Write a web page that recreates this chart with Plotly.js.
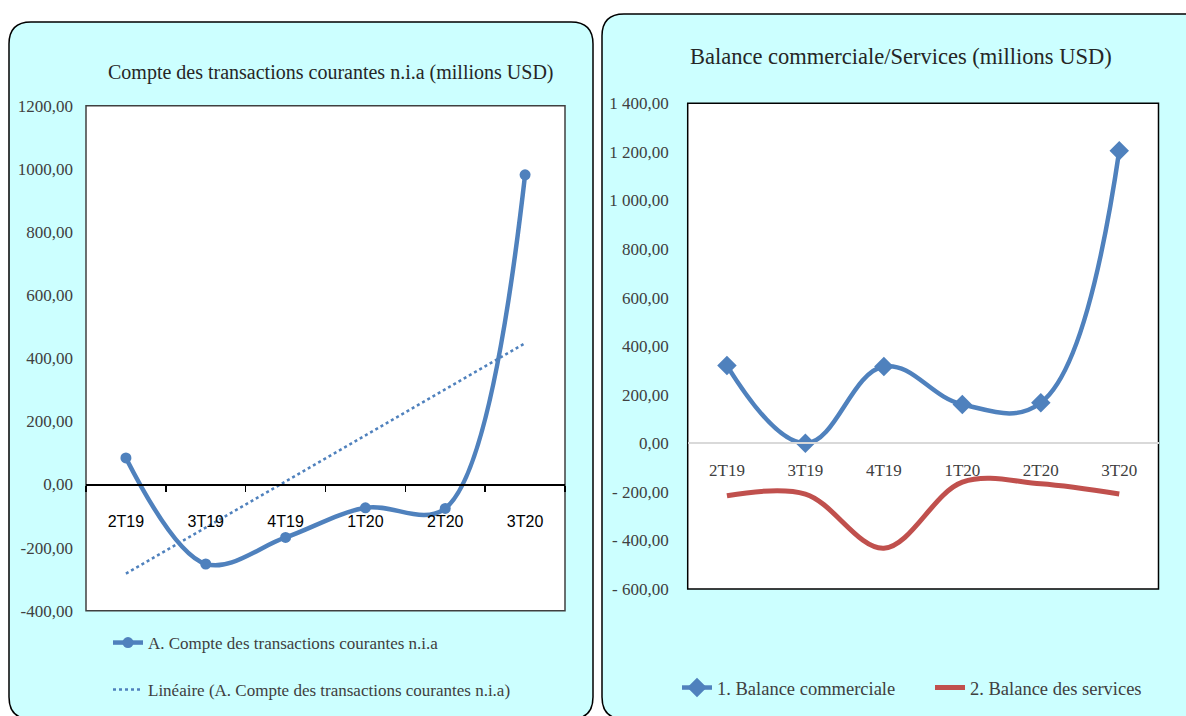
<!DOCTYPE html>
<html>
<head>
<meta charset="utf-8">
<script src="https://cdn.plot.ly/plotly-3.0.1.min.js"></script>
<style>
html,body{margin:0;padding:0;background:#ffffff;}
#chart{width:1186px;height:716px;}
</style>
</head>
<body>
<div id="chart"></div>
<script>
// ---------- DATA ----------
const categories = ['2T19','3T19','4T19','1T20','2T20','3T20'];
const compteCourant = [84, -252, -168, -74, -76, 981];           // A. Compte des transactions courantes n.i.a
const balanceCommerciale = [320, 0, 316, 160, 167, 1205];        // 1. Balance commerciale
const balanceServices = [-216, -209, -432, -160, -167, -209];    // 2. Balance des services

const leftYTickVals = [-400,-200,0,200,400,600,800,1000,1200];
const leftYTickText = ['-400,00','-200,00','0,00','200,00','400,00','600,00','800,00','1000,00','1200,00'];
const rightYTickVals = [-600,-400,-200,0,200,400,600,800,1000,1200,1400];
const rightYTickText = ['- 600,00','- 400,00','- 200,00','0,00','200,00','400,00','600,00','800,00','1 000,00','1 200,00','1 400,00'];

const leftTitle = 'Compte des transactions courantes n.i.a (millions USD)';
const rightTitle = 'Balance commerciale/Services (millions USD)';
const nameCompte = 'A. Compte des transactions courantes n.i.a';
const nameTrend = 'Linéaire (A. Compte des transactions courantes n.i.a)';
const nameCommerciale = '1. Balance commerciale';
const nameServices = '2. Balance des services';

// linear trendline (least squares) of the current-account series
function linearTrend(vals){
  const n = vals.length;
  const xs = vals.map((_,i)=>i);
  const mx = xs.reduce((a,b)=>a+b,0)/n;
  const my = vals.reduce((a,b)=>a+b,0)/n;
  let sxy=0, sxx=0;
  for(let i=0;i<n;i++){ sxy += (xs[i]-mx)*(vals[i]-my); sxx += (xs[i]-mx)*(xs[i]-mx); }
  const b = sxy/sxx, a = my - b*mx;
  return xs.map(x=>a+b*x);
}
const trendValues = linearTrend(compteCourant);

// ---------- GEOMETRY (pixels -> paper) ----------
const W = 1186, H = 716;
const px = x => x / W;
const py = y => 1 - y / H;

const L = {x0:86, x1:565, y0:105.7, y1:610.7, ymin:-400, ymax:1200};
const R = {x0:687.7, x1:1158.5, y0:103.3, y1:589, ymin:-600, ymax:1400};

function zeroPos(P){
  const d0 = py(P.y1), d1 = py(P.y0);
  return d0 + (0 - P.ymin)/(P.ymax - P.ymin)*(d1 - d0);
}

function rrect(x0,y0,x1,y1,r){
  const X = v => px(v), Y = v => py(v);
  return `M${X(x0+r)},${Y(y0)} L${X(x1-r)},${Y(y0)} Q${X(x1)},${Y(y0)} ${X(x1)},${Y(y0+r)} ` +
         `L${X(x1)},${Y(y1-r)} Q${X(x1)},${Y(y1)} ${X(x1-r)},${Y(y1)} ` +
         `L${X(x0+r)},${Y(y1)} Q${X(x0)},${Y(y1)} ${X(x0)},${Y(y1-r)} ` +
         `L${X(x0)},${Y(y0+r)} Q${X(x0)},${Y(y0)} ${X(x0+r)},${Y(y0)} Z`;
}

const BLUE = '#4F81BD';
const RED = '#C0504D';
const SERIF = "'Liberation Serif', 'Times New Roman', serif";
const SANSN = "'Liberation Sans Narrow', 'Liberation Sans', Arial, sans-serif";

const traces = [
  {
    x: categories, y: compteCourant, name: nameCompte, type: 'scatter', mode: 'lines+markers',
    xaxis: 'x', yaxis: 'y', legend: 'legend',
    line: {color: BLUE, width: 4.5, shape: 'spline', smoothing: 1},
    marker: {symbol: 'circle', size: 11, color: BLUE},
    hoverinfo: 'skip'
  },
  {
    x: categories, y: trendValues, name: nameTrend, type: 'scatter', mode: 'lines',
    xaxis: 'x', yaxis: 'y', legend: 'legend2',
    line: {color: BLUE, width: 2.5, dash: 'dot'},
    hoverinfo: 'skip'
  },
  {
    x: categories, y: balanceCommerciale, name: nameCommerciale, type: 'scatter', mode: 'lines+markers',
    xaxis: 'x2', yaxis: 'y2', legend: 'legend3',
    line: {color: BLUE, width: 4.5, shape: 'spline', smoothing: 1.15},
    marker: {symbol: 'diamond', size: 15, color: BLUE},
    hoverinfo: 'skip'
  },
  {
    x: categories, y: balanceServices, name: nameServices, type: 'scatter', mode: 'lines',
    xaxis: 'x2', yaxis: 'y2', legend: 'legend4',
    line: {color: RED, width: 5, shape: 'spline', smoothing: 1},
    hoverinfo: 'skip'
  }
];

function legendAt(xPix, yPix, size){
  return {
    x: px(xPix), y: py(yPix), xanchor: 'left', yanchor: 'middle',
    bgcolor: 'rgba(0,0,0,0)', borderwidth: 0,
    font: {family: SERIF, size: size, color: '#404040'},
    itemclick: false, itemdoubleclick: false
  };
}

const layout = {
  width: W, height: H,
  margin: {l:0, r:0, t:0, b:0, pad:0},
  paper_bgcolor: '#ffffff',
  plot_bgcolor: 'rgba(0,0,0,0)',
  showlegend: true,
  xaxis: {
    domain: [px(L.x0), px(L.x1)], anchor: 'free', position: zeroPos(L),
    type: 'category', range: [-0.5, 5.5], fixedrange: true,
    showline: true, linecolor: '#000000', linewidth: 1.5,
    ticks: 'outside', tickson: 'boundaries', ticklen: 6, tickcolor: '#000000', tickwidth: 1.5,
    showgrid: false, zeroline: false, ticklabelstandoff: 22,
    tickfont: {family: SANSN, size: 16, color: '#000000'}
  },
  yaxis: {
    domain: [py(L.y1), py(L.y0)], anchor: 'x', range: [L.ymin, L.ymax], fixedrange: true,
    tickmode: 'array', tickvals: leftYTickVals, ticktext: leftYTickText,
    showgrid: false, zeroline: false, showline: false, ticks: '', ticklabelstandoff: 12,
    tickfont: {family: SERIF, size: 17, color: '#404040'}
  },
  xaxis2: {
    domain: [px(R.x0), px(R.x1)], anchor: 'free', position: zeroPos(R),
    type: 'category', range: [-0.5, 5.5], fixedrange: true,
    showline: true, linecolor: '#D9D9D9', linewidth: 2,
    ticks: '', showgrid: false, zeroline: false, ticklabelstandoff: 11,
    tickfont: {family: SERIF, size: 17, color: '#404040'}
  },
  yaxis2: {
    domain: [py(R.y1), py(R.y0)], anchor: 'x2', range: [R.ymin, R.ymax], fixedrange: true,
    tickmode: 'array', tickvals: rightYTickVals, ticktext: rightYTickText,
    showgrid: false, zeroline: false, showline: false, ticks: '', ticklabelstandoff: 18,
    tickfont: {family: SERIF, size: 17, color: '#404040'}
  },
  legend: legendAt(108, 643, 17),
  legend2: legendAt(108, 690, 17),
  legend3: legendAt(677, 688, 18.5),
  legend4: legendAt(930, 688, 18.5),
  shapes: [
    {type:'path', xref:'paper', yref:'paper', layer:'below', path: rrect(9, 22, 593, 719, 22),
     fillcolor:'#CCFFFF', line:{color:'#000000', width:1.5}},
    {type:'path', xref:'paper', yref:'paper', layer:'below', path: rrect(602, 14, 1210, 719, 22),
     fillcolor:'#CCFFFF', line:{color:'#000000', width:1.5}},
    {type:'rect', xref:'paper', yref:'paper', layer:'below',
     x0: px(L.x0), x1: px(L.x1), y0: py(L.y1), y1: py(L.y0),
     fillcolor:'#ffffff', line:{color:'#404040', width:1.5}},
    {type:'rect', xref:'paper', yref:'paper', layer:'below',
     x0: px(R.x0), x1: px(R.x1), y0: py(R.y1), y1: py(R.y0),
     fillcolor:'#ffffff', line:{color:'#000000', width:1.5}}
  ],
  annotations: [
    {text: leftTitle, xref:'paper', yref:'paper', x: px(330), y: py(72), xanchor:'center', yanchor:'middle',
     showarrow:false, font:{family: SERIF, size: 20, color:'#262626'}},
    {text: rightTitle, xref:'paper', yref:'paper', x: px(901), y: py(56), xanchor:'center', yanchor:'middle',
     showarrow:false, font:{family: SERIF, size: 22.5, color:'#262626'}}
  ]
};

Plotly.newPlot('chart', traces, layout, {displayModeBar: false, staticPlot: true});
</script>
</body>
</html>
